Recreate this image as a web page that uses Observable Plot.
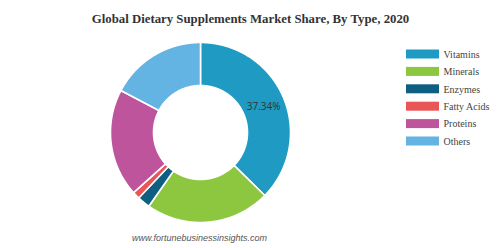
<!DOCTYPE html>
<html>
<head>
<meta charset="utf-8">
<script src="https://cdn.jsdelivr.net/npm/d3@7"></script>
<script src="https://cdn.jsdelivr.net/npm/@observablehq/plot@0.6"></script>
<style>
  html, body { margin: 0; padding: 0; background: #fff; }
  #chart svg { display: block; }
</style>
</head>
<body>
<div id="chart"></div>
<script>
const title = "Global Dietary Supplements Market Share, By Type, 2020";
const caption = "www.fortunebusinessinsights.com";
const types = ["Vitamins", "Minerals", "Enzymes", "Fatty Acids", "Proteins", "Others"];
const shares = [37.34, 22.4, 2.3, 1.3, 19.4, 17.26];
const colors = ["#1e9ac3", "#8dc63f", "#0e5f82", "#e85656", "#bd549c", "#63b3e3"];
const labeledType = "Vitamins";

const W = 498, H = 248;
const cx = 200, cy = 132, rOuter = 90, rInner = 47;

const arcs = d3.pie().sort(null).value(d => d)(shares);
const pt = (r, a) => [cx + r * Math.sin(a), cy - r * Math.cos(a)];

const poly = [];
arcs.forEach((arc, i) => {
  const n = Math.max(4, Math.ceil((arc.endAngle - arc.startAngle) / 0.01));
  for (let k = 0; k <= n; k++) {
    const a = arc.startAngle + (arc.endAngle - arc.startAngle) * k / n;
    const [x, y] = pt(rOuter, a);
    poly.push({type: types[i], x, y});
  }
  for (let k = n; k >= 0; k--) {
    const a = arc.startAngle + (arc.endAngle - arc.startAngle) * k / n;
    const [x, y] = pt(rInner, a);
    poly.push({type: types[i], x, y});
  }
});

const labels = arcs
  .map((arc, i) => {
    const [x, y] = pt((rInner + rOuter) / 2, (arc.startAngle + arc.endAngle) / 2);
    return {type: types[i], x, y, text: shares[i].toFixed(2) + "%"};
  })
  .filter(d => d.type === labeledType);

const legendX = 406, legendW = 33, legendY0 = 54, legendStep = 17.4, legendH = 9;
const legend = types.map((t, i) => ({type: t, y: legendY0 + i * legendStep}));

const chart = Plot.plot({
  width: W,
  height: H,
  margin: 0,
  style: {background: "#fff"},
  x: {domain: [0, W], range: [0, W], axis: null},
  y: {domain: [0, H], range: [0, H], axis: null},
  color: {domain: types, range: colors},
  marks: [
    Plot.line(poly, {
      x: "x", y: "y", z: "type", fill: "type",
      stroke: "#fff", strokeWidth: 1.6, curve: "linear-closed"
    }),
    Plot.text(labels, {
      x: "x", y: "y", text: "text", fill: "#333", fontSize: 10,
      fontFamily: "'Open Sans', 'Noto Sans', sans-serif", dy: 1
    }),
    Plot.text([title], {
      x: () => 250, y: () => 18, text: d => d, fontSize: 12.8, fontWeight: "bold",
      fill: "#333", fontFamily: "'Liberation Serif', 'DejaVu Serif', serif"
    }),
    Plot.rect(legend, {
      x1: () => legendX, x2: () => legendX + legendW,
      y1: d => d.y - legendH / 2, y2: d => d.y + legendH / 2,
      fill: "type"
    }),
    Plot.text(legend, {
      x: () => legendX + legendW + 4, y: "y", text: "type", textAnchor: "start",
      fontSize: 10, fill: "#444", fontFamily: "'Liberation Serif', serif"
    }),
    Plot.text([caption], {
      x: () => 199, y: () => 238, text: d => d, fontSize: 9, fontStyle: "italic",
      fill: "#555", fontFamily: "'Liberation Sans', Arial, sans-serif"
    })
  ]
});
document.getElementById("chart").appendChild(chart);
</script>
</body>
</html>
